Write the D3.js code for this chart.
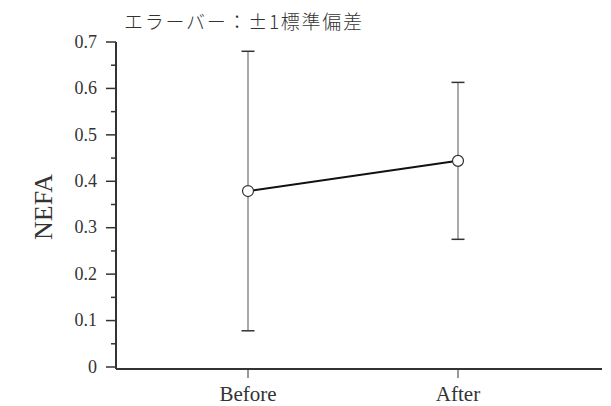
<!DOCTYPE html>
<html>
<head>
<meta charset="utf-8">
<script src="https://cdn.jsdelivr.net/npm/d3@7"></script>
<style>
  body { margin: 0; background: #fff; }
  text { fill: #333; }
</style>
</head>
<body>
<div id="chart"></div>
<script>
// data
const groups = ["Before", "After"];
const means = [0.379, 0.444];
const sds = [0.301, 0.169];
const yTicks = [0, 0.1, 0.2, 0.3, 0.4, 0.5, 0.6, 0.7];
const titleText = "エラーバー：±1標準偏差";
const yLabel = "NEFA";

const svgWidth = 611, svgHeight = 406;
const axisX = 116, axisY = 369;
const serif = "'Liberation Serif', 'Times New Roman', serif";

const svg = d3.select("#chart").append("svg")
    .attr("width", svgWidth)
    .attr("height", svgHeight);

const x = d3.scalePoint()
    .domain(groups)
    .range([248, 458]);

const y = d3.scaleLinear()
    .domain([0, 0.7])
    .range([367, 42]);

// y axis: major ticks every 0.1, minor at 0.05
const minor = d3.range(0.05, 0.7, 0.1);
svg.append("g").selectAll("line.minor")
    .data(minor).enter().append("line")
    .attr("x1", axisX - 5).attr("x2", axisX)
    .attr("y1", d => y(d)).attr("y2", d => y(d))
    .attr("stroke", "#333").attr("stroke-width", 1.5);

svg.append("g").selectAll("line.major")
    .data(yTicks).enter().append("line")
    .attr("x1", axisX - 10).attr("x2", axisX)
    .attr("y1", d => y(d)).attr("y2", d => y(d))
    .attr("stroke", "#333").attr("stroke-width", 1.5);

svg.append("g").selectAll("text")
    .data(yTicks).enter().append("text")
    .attr("x", 97)
    .attr("y", d => y(d))
    .attr("dy", "0.32em")
    .attr("text-anchor", "end")
    .style("font-family", serif)
    .style("font-size", "18px")
    .text(d => d === 0 ? "0" : d.toFixed(1));

svg.append("line")
    .attr("x1", axisX).attr("x2", axisX)
    .attr("y1", y(0.7)).attr("y2", axisY)
    .attr("stroke", "#333").attr("stroke-width", 2);

// x axis
svg.append("line")
    .attr("x1", axisX).attr("x2", 602)
    .attr("y1", axisY).attr("y2", axisY)
    .attr("stroke", "#333").attr("stroke-width", 2);

svg.append("g").selectAll("line")
    .data(groups).enter().append("line")
    .attr("x1", d => x(d)).attr("x2", d => x(d))
    .attr("y1", axisY).attr("y2", axisY + 9)
    .attr("stroke", "#333").attr("stroke-width", 1);

svg.append("g").selectAll("text")
    .data(groups).enter().append("text")
    .attr("x", d => x(d))
    .attr("y", 401)
    .attr("text-anchor", "middle")
    .style("font-family", serif)
    .style("font-size", "21px")
    .text(d => d);

// error bars
const bars = groups.map((g, i) => ({g: g, m: means[i], s: sds[i]}));
const eb = svg.append("g").selectAll("g").data(bars).enter().append("g");
eb.append("line")
    .attr("x1", d => x(d.g)).attr("x2", d => x(d.g))
    .attr("y1", d => y(d.m + d.s)).attr("y2", d => y(d.m - d.s))
    .attr("stroke", "#555").attr("stroke-width", 1);
eb.selectAll("line.cap")
    .data(d => [[d.g, d.m + d.s], [d.g, d.m - d.s]]).enter().append("line")
    .attr("x1", d => x(d[0]) - 6.5).attr("x2", d => x(d[0]) + 6.5)
    .attr("y1", d => y(d[1])).attr("y2", d => y(d[1]))
    .attr("stroke", "#333").attr("stroke-width", 1.5);

// mean line
svg.append("path")
    .datum(bars)
    .attr("d", d3.line().x(d => x(d.g)).y(d => y(d.m)))
    .attr("fill", "none")
    .attr("stroke", "#111")
    .attr("stroke-width", 2);

svg.append("g").selectAll("circle")
    .data(bars).enter().append("circle")
    .attr("cx", d => x(d.g)).attr("cy", d => y(d.m))
    .attr("r", 5.5)
    .attr("fill", "#fff")
    .attr("stroke", "#333")
    .attr("stroke-width", 1.2);

// labels
svg.append("text")
    .attr("transform", `translate(52, 207) rotate(-90)`)
    .attr("text-anchor", "middle")
    .style("font-family", serif)
    .style("font-size", "26px")
    .text(yLabel);

svg.append("text")
    .attr("x", 124)
    .attr("y", 29)
    .attr("textLength", 238)
    .style("font-family", "'Noto Sans CJK JP'")
    .style("font-size", "19px")
    .style("font-weight", 300)
    .text(titleText);
</script>
</body>
</html>
